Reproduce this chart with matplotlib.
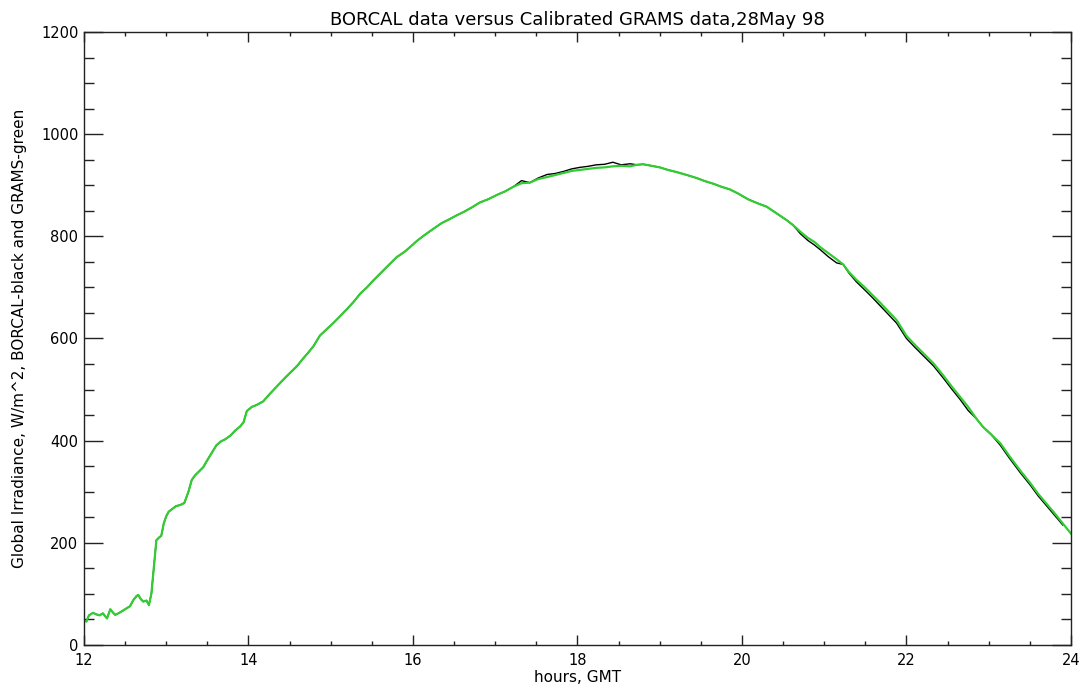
import matplotlib
matplotlib.use('Agg')
import matplotlib.pyplot as plt
from matplotlib.ticker import MultipleLocator

# GRAMS (green), hours GMT and W/m^2
grams_hours = [12.00, 12.03, 12.06, 12.11, 12.15, 12.19, 12.23, 12.28, 12.32, 12.35,
               12.38, 12.43, 12.48, 12.52, 12.56, 12.60, 12.64, 12.66, 12.69, 12.72,
               12.76, 12.79, 12.82, 12.85, 12.88, 12.91, 12.94, 12.97, 13.00, 13.03,
               13.07, 13.12, 13.17, 13.22, 13.27, 13.31, 13.35, 13.40, 13.45, 13.50,
               13.55, 13.61, 13.66, 13.72, 13.78, 13.84, 13.90, 13.94, 13.98, 14.04,
               14.10, 14.18, 14.25, 14.32, 14.38, 14.45, 14.52, 14.59, 14.66, 14.72,
               14.79, 14.87, 14.95, 15.03, 15.11, 15.20, 15.28, 15.36, 15.44, 15.52,
               15.60, 15.70, 15.80, 15.90, 16.00, 16.04, 16.12, 16.25, 16.35, 16.45,
               16.53, 16.62, 16.72, 16.81, 16.92, 17.02, 17.12, 17.22, 17.32, 17.42,
               17.52, 17.63, 17.73, 17.83, 17.93, 18.03, 18.13, 18.23, 18.33, 18.43,
               18.53, 18.64, 18.72, 18.80, 18.90, 19.00, 19.10, 19.20, 19.33, 19.45,
               19.55, 19.65, 19.75, 19.85, 19.95, 20.08, 20.20, 20.30, 20.42, 20.54,
               20.62, 20.71, 20.80, 20.88, 20.95, 21.05, 21.15, 21.23, 21.30, 21.39,
               21.48, 21.58, 21.68, 21.78, 21.88, 22.00, 22.10, 22.20, 22.33, 22.45,
               22.55, 22.65, 22.75, 22.85, 22.93, 23.03, 23.14, 23.25, 23.38, 23.50,
               23.60, 23.70, 23.80, 23.90, 24.00]
grams_vals = [48, 46, 58, 63, 60, 58, 62, 52, 70, 64,
              59, 63, 68, 72, 76, 88, 96, 98, 90, 85,
              87, 78, 101, 153, 205, 210, 214, 238, 252, 261,
              266, 272, 274, 278, 300, 323, 332, 340, 348, 362,
              375, 391, 398, 403, 410, 420, 428, 436, 458, 466,
              470, 477, 490, 502, 512, 524, 535, 546, 560, 571,
              585, 606, 618, 630, 643, 658, 672, 688, 700, 714,
              727, 743, 759, 770, 784, 790, 800, 815, 826, 834,
              841, 848, 857, 866, 873, 881, 888, 897, 904, 905,
              912, 916, 920, 924, 928, 930, 932, 934, 935, 937,
              938, 937, 940, 941, 938, 935, 930, 926, 920, 914,
              908, 903, 897, 892, 884, 872, 864, 858, 845, 832,
              822, 809, 797, 789, 779, 767, 755, 745, 730, 715,
              702, 686, 670, 653, 636, 605, 588, 572, 551, 527,
              506, 486, 466, 443, 427, 412, 395, 370, 342, 318,
              296, 277, 258, 238, 218]

# BORCAL (black), mostly hidden under the green trace
borcal_hours = grams_hours[:-1]
borcal_vals = [48, 46, 58, 63, 60, 58, 62, 52, 70, 64,
               59, 63, 68, 72, 76, 88, 96, 98, 90, 85,
               87, 78, 101, 153, 205, 210, 214, 238, 252, 261,
               266, 272, 274, 278, 300, 323, 332, 340, 348, 362,
               375, 391, 398, 403, 410, 420, 428, 436, 458, 466,
               470, 477, 490, 502, 512, 524, 535, 546, 560, 571,
               585, 606, 618, 630, 643, 658, 672, 688, 700, 714,
               727, 743, 759, 770, 784, 790, 800, 815, 826, 834,
               841, 848, 857, 866, 873, 881, 888, 897, 909, 905,
               914, 921, 923, 927, 932, 935, 937, 940, 941, 945,
               940, 942, 940, 941, 938, 935, 930, 926, 920, 914,
               908, 903, 897, 892, 884, 872, 864, 858, 845, 832,
               822, 805, 792, 783, 774, 760, 748, 745, 728, 711,
               697, 681, 664, 647, 630, 600, 583, 567, 546, 522,
               501, 481, 459, 443, 427, 412, 391, 366, 338, 314,
               292, 273, 254, 235]

title = 'BORCAL data versus Calibrated GRAMS data,28May 98'
xlab = 'hours, GMT'
ylab = 'Global Irradiance, W/m^2, BORCAL-black and GRAMS-green'

fig = plt.figure(figsize=(10.85, 6.92), dpi=100)
ax = fig.add_axes([0.0774, 0.0679, 0.9097, 0.8859])

ax.plot(borcal_hours, borcal_vals, color='black', lw=1.0)
ax.plot(grams_hours, grams_vals, color='#33cc33', lw=1.6)

ax.set_xlim(12, 24)
ax.set_ylim(0, 1200)
ax.xaxis.set_major_locator(MultipleLocator(2))
ax.xaxis.set_minor_locator(MultipleLocator(0.5))
ax.yaxis.set_major_locator(MultipleLocator(200))
ax.yaxis.set_minor_locator(MultipleLocator(50))

ax.tick_params(axis='both', which='both', direction='in', top=True, right=True,
               width=1.0, labelsize=10.5, color='#222222')
ax.tick_params(axis='x', which='major', length=7.5, pad=6)
ax.tick_params(axis='x', which='minor', length=3)
ax.tick_params(axis='y', which='major', length=13.7, pad=4)
ax.tick_params(axis='y', which='minor', length=7)
for s in ax.spines.values():
    s.set_linewidth(1.0)
    s.set_color('#222222')

ax.set_title(title, fontsize=13, pad=5)
ax.set_xlabel(xlab, fontsize=11, labelpad=1)
ax.set_ylabel(ylab, fontsize=11, labelpad=10)

fig.savefig('out.png', dpi=100)
